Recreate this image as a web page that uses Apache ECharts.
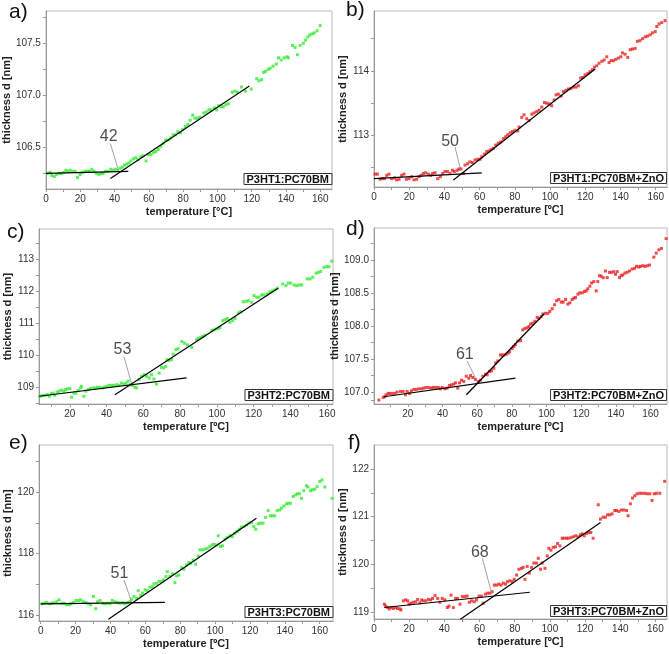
<!DOCTYPE html>
<html><head><meta charset="utf-8">
<script src="https://cdn.jsdelivr.net/npm/echarts@6/dist/echarts.min.js"></script>
<style>html,body{margin:0;padding:0;background:#fff}#c{width:669px;height:654px}</style>
</head><body><div id="c"></div>
<script>
// ---------- data (temperature °C, thickness nm) ----------
const ptsA = [[0.9,106.25],[2.5,106.26],[3.4,106.23],[4.9,106.22],[6.3,106.24],[7.8,106.25],[9.1,106.25],[10.4,106.26],[11.6,106.28],[12.9,106.27],[14.2,106.28],[15.7,106.27],[17.1,106.27],[18.4,106.21],[19.9,106.24],[21.4,106.26],[22.8,106.27],[24.3,106.27],[25.6,106.27],[26.8,106.29],[28.1,106.27],[29.4,106.25],[30.9,106.24],[32.3,106.25],[33.4,106.25],[34.7,106.27],[36.2,106.27],[37.8,106.29],[39.1,106.28],[40.4,106.29],[41.7,106.28],[43.3,106.30],[44.6,106.31],[45.9,106.33],[47.2,106.34],[48.4,106.35],[49.5,106.37],[51.0,106.39],[52.4,106.40],[53.7,106.38],[55.2,106.41],[56.7,106.42],[58.4,106.37],[59.8,106.43],[61.3,106.43],[62.8,106.45],[64.1,106.46],[65.5,106.48],[67.0,106.51],[68.5,106.54],[69.8,106.57],[71.2,106.57],[72.7,106.59],[74.2,106.62],[75.5,106.62],[76.9,106.65],[78.4,106.64],[79.7,106.67],[81.3,106.70],[82.7,106.72],[84.1,106.76],[85.6,106.81],[86.9,106.78],[88.2,106.78],[89.7,106.79],[92.0,106.83],[93.5,106.84],[95.0,106.86],[96.4,106.86],[98.3,106.88],[99.6,106.86],[100.7,106.90],[102.1,106.89],[103.4,106.89],[104.9,106.91],[106.4,106.92],[108.7,107.03],[110.2,107.04],[111.6,107.03],[114.0,107.08],[116.3,107.04],[119.7,107.06],[122.9,107.16],[124.2,107.14],[125.8,107.15],[126.9,107.22],[128.1,107.23],[129.6,107.25],[130.7,107.26],[132.4,107.28],[134.3,107.30],[135.6,107.36],[137.2,107.34],[139.0,107.36],[140.6,107.37],[141.3,107.36],[143.8,107.48],[145.3,107.46],[146.7,107.39],[148.2,107.48],[150.1,107.50],[151.4,107.53],[152.7,107.56],[153.8,107.58],[155.2,107.59],[156.5,107.60],[158.1,107.62],[159.9,107.67]];
const ptsB = [[0.6,112.40],[1.9,112.40],[3.4,112.32],[4.7,112.33],[5.9,112.33],[7.2,112.38],[8.5,112.40],[10.0,112.33],[11.6,112.34],[12.9,112.31],[14.2,112.32],[15.7,112.38],[17.0,112.40],[18.4,112.32],[19.9,112.33],[21.4,112.36],[22.7,112.31],[24.2,112.32],[25.6,112.36],[26.7,112.38],[28.0,112.41],[29.4,112.42],[30.9,112.40],[32.2,112.38],[33.3,112.41],[34.7,112.42],[36.2,112.33],[37.7,112.36],[39.0,112.41],[40.3,112.44],[41.7,112.44],[43.2,112.41],[44.5,112.46],[45.6,112.44],[47.2,112.46],[48.3,112.48],[49.4,112.48],[50.7,112.41],[51.7,112.54],[53.2,112.56],[54.5,112.59],[55.9,112.58],[57.4,112.62],[58.9,112.63],[60.2,112.63],[61.2,112.67],[62.7,112.71],[64.0,112.75],[65.3,112.76],[66.5,112.78],[67.8,112.80],[69.1,112.85],[70.6,112.88],[72.0,112.90],[73.5,112.95],[74.8,112.98],[75.9,113.01],[77.3,113.04],[78.6,113.06],[80.1,113.08],[81.6,113.07],[82.4,113.13],[83.9,113.28],[85.2,113.32],[86.7,113.26],[88.1,113.23],[89.6,113.33],[90.9,113.35],[92.4,113.37],[93.8,113.39],[95.3,113.44],[96.8,113.51],[98.1,113.50],[99.4,113.49],[100.9,113.46],[102.3,113.55],[103.4,113.63],[104.7,113.64],[106.3,113.61],[107.6,113.68],[109.1,113.70],[110.4,113.72],[111.9,113.73],[113.3,113.75],[114.6,113.75],[116.1,113.77],[117.4,113.89],[118.6,113.90],[119.9,113.94],[121.4,113.96],[122.7,113.99],[124.1,114.02],[125.2,114.06],[126.5,114.08],[127.8,114.12],[129.4,114.15],[130.7,114.17],[132.2,114.22],[133.5,114.13],[134.7,114.16],[136.0,114.16],[137.3,114.18],[138.8,114.20],[140.2,114.22],[141.1,114.28],[142.6,114.26],[144.1,114.21],[145.5,114.33],[146.8,114.34],[148.3,114.35],[149.6,114.46],[151.1,114.47],[152.5,114.50],[154.0,114.53],[155.3,114.54],[156.8,114.56],[158.1,114.59],[159.7,114.61],[160.6,114.69],[161.9,114.73],[163.4,114.75],[165.3,114.78]];
const ptsC = [[3.7,108.73],[5.0,108.75],[6.4,108.76],[7.7,108.78],[8.8,108.73],[10.0,108.81],[10.9,108.83],[11.8,108.76],[13.1,108.86],[14.2,108.89],[15.5,108.92],[16.7,108.89],[17.6,108.94],[18.7,108.96],[20.0,108.97],[20.9,108.70],[22.2,108.83],[23.3,108.83],[24.5,108.91],[25.8,108.99],[26.3,109.04],[27.6,108.73],[28.7,108.89],[30.0,108.94],[31.2,108.97],[32.7,108.99],[34.0,108.99],[35.0,109.01],[36.3,109.01],[37.8,108.99],[39.0,109.02],[40.3,109.04],[41.4,109.07],[42.7,109.07],[43.9,109.07],[45.4,109.09],[46.8,109.07],[48.1,109.14],[49.4,109.11],[50.5,109.14],[51.7,109.20],[53.0,109.09],[54.1,109.07],[55.4,109.01],[56.3,108.99],[57.7,109.25],[59.0,109.35],[60.3,109.40],[61.7,109.35],[63.2,109.30],[64.4,109.40],[65.7,109.27],[67.1,109.11],[68.6,109.45],[69.9,109.63],[71.1,109.61],[72.2,109.66],[72.9,109.87],[74.0,109.84],[75.3,109.87],[76.2,110.04],[77.7,110.18],[78.9,110.21],[80.9,110.43],[82.4,110.38],[84.0,110.33],[86.3,110.25],[89.0,110.49],[89.9,110.53],[91.2,110.56],[92.3,110.59],[93.5,110.63],[97.2,110.77],[98.1,110.79],[99.5,110.82],[100.8,110.84],[101.7,110.87],[103.2,111.08],[104.4,111.11],[105.7,111.15],[107.1,111.03],[108.6,111.08],[109.9,111.15],[111.7,111.32],[113.0,111.36],[114.4,111.67],[115.9,111.68],[117.1,111.70],[119.0,111.65],[120.2,111.86],[121.7,111.81],[122.9,111.81],[124.4,111.88],[125.6,111.88],[127.4,111.91],[128.9,111.98],[130.4,112.01],[131.6,112.04],[132.9,112.09],[135.8,112.22],[137.6,112.17],[138.9,112.25],[140.2,112.25],[142.0,112.19],[143.4,112.17],[144.9,112.19],[146.2,112.19],[149.2,112.38],[150.7,112.38],[152.2,112.43],[154.0,112.56],[155.2,112.58],[156.5,112.61],[158.3,112.74],[159.8,112.76],[161.0,112.76],[162.5,112.93]];
const ptsD = [[3.3,106.88],[5.8,106.92],[6.7,106.93],[7.5,106.96],[8.7,106.98],[9.6,106.98],[11.0,106.98],[12.5,106.98],[13.8,107.00],[15.8,107.01],[17.3,107.01],[18.7,106.96],[19.6,107.01],[21.0,106.98],[22.1,107.02],[23.5,107.04],[24.8,107.04],[26.3,107.05],[27.9,107.05],[29.2,107.06],[30.6,107.07],[32.1,107.07],[33.5,107.06],[34.6,107.07],[36.0,107.07],[37.5,107.07],[38.8,107.05],[39.8,107.07],[41.3,107.05],[42.7,107.06],[44.0,107.10],[45.2,107.11],[46.5,107.12],[47.5,107.14],[48.8,107.06],[49.8,107.14],[51.0,107.18],[52.3,107.16],[53.7,107.24],[55.2,107.21],[56.2,107.25],[57.5,107.22],[59.0,107.19],[60.6,107.16],[61.9,107.18],[63.3,107.24],[64.8,107.27],[65.8,107.26],[67.1,107.31],[68.3,107.32],[69.6,107.36],[70.6,107.44],[71.9,107.47],[73.5,107.56],[74.4,107.56],[75.4,107.56],[76.7,107.57],[77.9,107.59],[78.7,107.61],[80.2,107.66],[81.2,107.69],[82.1,107.72],[83.5,107.77],[85.0,107.78],[86.3,107.94],[87.5,107.96],[88.8,107.97],[89.8,107.99],[90.8,108.03],[92.1,108.04],[93.3,108.07],[94.6,108.13],[95.6,108.11],[96.9,108.14],[97.9,108.18],[99.4,108.19],[100.8,108.19],[101.9,108.22],[103.3,108.26],[104.6,108.32],[105.8,108.38],[107.1,108.40],[108.5,108.36],[109.6,108.36],[111.0,108.40],[112.3,108.33],[113.5,108.35],[114.8,108.40],[115.8,108.42],[116.7,108.43],[118.1,108.48],[119.2,108.50],[120.6,108.50],[121.9,108.52],[122.9,108.53],[123.8,108.56],[125.0,108.60],[126.0,108.65],[127.3,108.67],[128.7,108.53],[129.6,108.67],[130.6,108.76],[131.5,108.75],[132.7,108.73],[134.0,108.83],[135.0,108.73],[136.3,108.81],[137.5,108.81],[138.8,108.82],[139.8,108.78],[140.8,108.82],[142.1,108.73],[143.1,108.76],[144.0,108.77],[145.2,108.80],[146.5,108.81],[147.9,108.83],[149.4,108.86],[150.8,108.87],[151.9,108.90],[153.3,108.89],[154.2,108.90],[155.6,108.91],[156.7,108.90],[158.1,108.91],[159.4,108.92],[161.9,109.04],[163.3,109.10],[164.8,109.15],[166.3,109.17],[169.0,109.32]];
const ptsE = [[0.6,116.36],[2.1,116.38],[3.4,116.41],[4.8,116.36],[6.3,116.38],[7.6,116.40],[9.2,116.43],[10.5,116.49],[12.0,116.38],[13.4,116.38],[14.9,116.33],[16.2,116.33],[17.2,116.36],[18.7,116.40],[20.2,116.47],[21.6,116.47],[22.9,116.49],[24.4,116.43],[25.8,116.40],[27.3,116.36],[28.6,116.33],[30.2,116.60],[31.5,116.20],[32.6,116.43],[34.0,116.47],[35.5,116.38],[36.8,116.36],[38.2,116.38],[39.7,116.36],[41.0,116.47],[42.6,116.43],[43.9,116.40],[45.4,116.38],[47.0,116.40],[48.3,116.36],[49.6,116.40],[51.2,116.43],[52.1,116.51],[53.5,116.60],[55.0,116.54],[55.9,116.79],[57.3,116.63],[58.4,116.71],[59.8,116.82],[61.1,116.79],[62.6,116.90],[64.0,116.92],[64.9,117.01],[66.4,117.03],[67.8,117.09],[69.3,117.09],[70.3,117.14],[71.8,117.25],[72.6,117.41],[74.1,117.25],[75.6,117.34],[76.9,117.05],[77.9,117.27],[79.2,117.30],[80.8,117.54],[82.1,117.49],[83.6,117.63],[85.0,117.71],[85.9,117.68],[87.4,117.79],[88.8,117.65],[90.3,117.92],[91.3,118.12],[92.8,118.12],[94.1,118.14],[95.5,118.17],[97.0,118.23],[98.3,118.28],[99.3,118.30],[100.8,118.28],[101.8,118.58],[103.1,118.23],[104.2,118.25],[105.6,118.47],[106.9,118.52],[108.4,118.58],[109.8,118.55],[111.3,118.66],[112.6,118.72],[113.8,118.79],[115.1,118.86],[116.5,118.88],[118.0,118.93],[119.3,118.99],[120.9,119.01],[122.2,118.88],[123.3,118.79],[124.7,118.97],[126.0,118.99],[127.5,118.99],[128.9,119.18],[130.4,119.40],[131.7,119.23],[132.9,119.23],[134.2,119.23],[135.6,119.40],[137.1,119.42],[138.0,119.48],[139.4,119.55],[140.9,119.62],[141.9,119.64],[143.2,119.64],[144.7,119.86],[146.1,119.91],[147.2,119.95],[148.5,119.95],[149.5,119.80],[150.8,120.05],[152.4,120.21],[153.3,120.17],[154.7,120.05],[155.8,120.08],[157.1,120.10],[158.5,120.18],[160.0,120.35],[161.3,120.40],[162.9,120.17],[167.1,119.80]];
const ptsF = [[5.9,119.17],[6.6,119.13],[7.8,119.10],[8.7,119.07],[9.7,119.10],[11.0,119.08],[12.3,119.10],[13.4,119.08],[14.8,119.07],[15.3,119.05],[16.7,119.24],[18.0,119.26],[19.1,119.24],[19.9,119.17],[21.0,119.19],[22.3,119.21],[23.7,119.22],[24.8,119.27],[26.1,119.20],[27.1,119.26],[28.0,119.24],[29.4,119.24],[30.9,119.27],[32.2,119.26],[33.3,119.29],[34.7,119.35],[36.2,119.29],[37.5,119.21],[38.8,119.29],[40.3,119.26],[41.7,119.10],[42.6,119.13],[43.8,119.36],[45.1,119.10],[46.4,119.29],[47.5,119.29],[48.9,119.17],[50.2,119.33],[51.7,119.33],[53.0,119.34],[54.2,119.21],[55.5,119.24],[57.0,119.22],[58.3,119.26],[59.7,119.34],[61.2,119.34],[62.1,119.19],[63.4,119.38],[64.6,119.40],[65.9,119.40],[67.2,119.43],[68.4,119.57],[69.7,119.57],[71.0,119.59],[72.2,119.57],[73.5,119.61],[74.8,119.59],[75.9,119.64],[77.3,119.66],[78.6,119.64],[79.7,119.69],[81.1,119.78],[82.4,119.90],[83.9,119.92],[84.8,119.94],[85.8,119.69],[87.1,119.96],[88.3,119.82],[89.6,119.94],[90.9,120.03],[92.4,120.03],[93.4,120.13],[94.7,119.90],[95.6,120.03],[97.2,119.92],[98.5,120.18],[99.4,120.34],[100.6,120.30],[101.9,120.36],[103.2,120.37],[104.4,120.44],[105.7,120.39],[107.0,120.55],[108.1,120.55],[109.5,120.55],[110.4,120.55],[111.9,120.56],[113.3,120.58],[114.6,120.60],[116.1,120.58],[117.4,120.62],[118.4,120.64],[119.5,120.60],[120.8,120.65],[122.2,120.67],[123.3,120.67],[124.6,120.55],[127.5,121.25],[128.8,120.95],[130.3,120.99],[131.6,120.99],[132.8,121.04],[134.1,121.04],[135.4,121.06],[136.9,121.13],[137.9,121.13],[139.2,121.11],[140.7,121.14],[142.0,121.14],[143.6,121.13],[144.5,121.02],[145.8,121.27],[147.0,121.39],[148.3,121.44],[149.6,121.48],[151.1,121.49],[152.5,121.49],[154.0,121.49],[155.3,121.48],[156.8,121.48],[158.1,121.34],[159.3,121.48],[160.6,121.49],[162.5,121.49],[165.3,121.74]];

// linear fit segments [flat, steep] as end points
const fitA = [[[0,106.25],[48,106.27]],[[37.6,106.2],[118.6,107.09]]];
const fitB = [[[0,112.33],[61.2,112.42]],[[45.1,112.31],[125.6,114.03]]];
const fitC = [[[3.2,108.73],[83.5,109.30]],[[44.5,108.78],[133.3,112.09]]];
const fitD = [[[6.2,106.93],[82.1,107.21]],[[53.8,106.96],[98.5,108.18]]];
const fitE = [[[0,116.36],[71.2,116.41]],[[38.8,115.86],[123.7,119.15]]];
const fitF = [[[5.9,119.10],[88.6,119.42]],[[48.9,118.85],[128.8,120.88]]];

// transition temperature annotations
const noteA = {text:'42', at:[36.6,106.60], from:[37.6,106.535], to:[42.3,106.28]};
const noteB = {text:'50', at:[43.2,112.90], from:[46.0,112.82], to:[49.4,112.45]};
const noteC = {text:'53', at:[48.6,110.18], from:[49.4,109.97], to:[53.5,109.14]};
const noteD = {text:'61', at:[52.9,107.57], from:[54.2,107.47], to:[60.0,107.16]};
const noteE = {text:'51', at:[45.1,117.34], from:[47.7,117.14], to:[52.1,116.43]};
const noteF = {text:'68', at:[60.2,120.25], from:[61.6,120.13], to:[66.9,119.40]};

// tick labels
const xLabels = [0,20,40,60,80,100,120,140,160];
const xLabelsC = [20,40,60,80,100,120,140,160];
const xTicks = [0,10,20,30,40,50,60,70,80,90,100,110,120,130,140,150,160];
const yLabelsA = [106.5,107.0,107.5];
const yTicksA = [106.25,106.5,106.75,107.0,107.25,107.5,107.75];
const yLabelsB = [113,114];
const yTicksB = [112.5,113,113.5,114,114.5];
const yLabelsC = [109,110,111,112,113];
const yTicksC = [108.5,109,109.5,110,110.5,111,111.5,112,112.5,113,113.5];
const yLabelsD = [107.0,107.5,108.0,108.5,109.0];
const yTicksD = [106.875,107.0,107.25,107.5,107.75,108.0,108.25,108.5,108.75,109.0,109.25];
const yLabelsE = [116,118,120];
const yTicksE = [116,117,118,119,120,121];
const yLabelsF = [119,120,121,122];
const yTicksF = [119,119.5,120,120.5,121,121.5,122];

const GREEN = '#33ee33', RED = '#ee2222';
const FONT = '"Liberation Sans", Arial, sans-serif';

const panels = [
  {tag:'a)', box:'P3HT1:PC70BM', pts:ptsA, fit:fitA, note:noteA, color:GREEN,
   grid:{left:39,top:11,width:293,height:178}, x:[0,166.8], y:[106.1,107.81],
   xl:xLabels, yl:yLabelsA, yt:yTicksA, dec:1, tagPos:{left:9,top:2}, boxPos:{right:337,top:173}, deg:'°'},
  {tag:'b)', box:'P3HT1:PC70BM+ZnO', pts:ptsB, fit:fitB, note:noteB, color:RED,
   grid:{left:374,top:11,width:293,height:176}, x:[0,166.4], y:[112.2,114.93],
   xl:xLabels, yl:yLabelsB, yt:yTicksB, dec:0, tagPos:{left:346,top:0}, boxPos:{right:2,top:172}, deg:'º'},
  {tag:'c)', box:'P3HT2:PC70BM', pts:ptsC, fit:fitC, note:noteC, color:GREEN,
   grid:{left:39,top:229,width:294,height:175}, x:[3.2,163.2], y:[108.49,113.93],
   xl:xLabelsC, yl:yLabelsC, yt:yTicksC, dec:0, tagPos:{left:7,top:222}, boxPos:{right:336,top:389}, deg:'º'},
  {tag:'d)', box:'P3HT2:PC70BM+ZnO', pts:ptsD, fit:fitD, note:noteD, color:RED,
   grid:{left:374,top:228,width:293,height:176}, x:[0.5,169.5], y:[106.82,109.48],
   xl:xLabels, yl:yLabelsD, yt:yTicksD, dec:1, tagPos:{left:346,top:219}, boxPos:{right:2,top:389}, deg:'º'},
  {tag:'e)', box:'P3HT3:PC70BM', pts:ptsE, fit:fitE, note:noteE, color:GREEN,
   grid:{left:39,top:445,width:294,height:176}, x:[-1,167.6], y:[115.8,121.54],
   xl:xLabels, yl:yLabelsE, yt:yTicksE, dec:0, tagPos:{left:9,top:433}, boxPos:{right:336,top:606}, deg:'º'},
  {tag:'f)', box:'P3HT3:PC70BM+ZnO', pts:ptsF, fit:fitF, note:noteF, color:RED,
   grid:{left:374,top:445,width:293,height:174}, x:[0,166.6], y:[118.86,122.5],
   xl:xLabels, yl:yLabelsF, yt:yTicksF, dec:0, tagPos:{left:348,top:433}, boxPos:{right:2,top:605}, deg:'º'}
];

const grid = [], xAxis = [], yAxis = [], series = [], title = [];
panels.forEach((p, i) => {
  grid.push(Object.assign({show:true, borderColor:'#bbb', borderWidth:1}, p.grid));
  xAxis.push({
    gridIndex:i, type:'value', min:p.x[0], max:p.x[1],
    axisLine:{show:true, onZero:false, lineStyle:{color:'#999', width:1}},
    axisTick:{show:true, length:3, lineStyle:{color:'#999'}, customValues:xTicks},
    axisLabel:{customValues:p.xl, fontSize:10, color:'#333', margin:5, fontFamily:FONT},
    splitLine:{show:false},
    name:'temperature [' + p.deg + 'C]', nameLocation:'middle', nameGap:17,
    nameTextStyle:{fontWeight:'bold', fontSize:11, color:'#222', fontFamily:FONT}
  });
  yAxis.push({
    gridIndex:i, type:'value', min:p.y[0], max:p.y[1],
    axisLine:{show:true, onZero:false, lineStyle:{color:'#999', width:1}},
    axisTick:{show:true, length:3, lineStyle:{color:'#999'}, customValues:p.yt},
    axisLabel:{customValues:p.yl, fontSize:10, color:'#333', margin:5, fontFamily:FONT,
      formatter: v => Number(v).toFixed(p.dec)},
    splitLine:{show:false},
    name:'thickness d [nm]', nameLocation:'middle', nameGap:26,
    nameTextStyle:{fontWeight:'bold', fontSize:11, color:'#222', fontFamily:FONT}
  });
  series.push({type:'scatter', xAxisIndex:i, yAxisIndex:i, data:p.pts, symbol:'rect', symbolSize:3,
    itemStyle:{color:p.color}, silent:true, z:2});
  p.fit.forEach(seg => series.push({type:'line', xAxisIndex:i, yAxisIndex:i, data:seg, symbol:'none',
    lineStyle:{color:'#000', width:1.2}, silent:true, z:3}));
  series.push({type:'line', xAxisIndex:i, yAxisIndex:i, data:[p.note.from, p.note.to], symbol:'none',
    lineStyle:{color:'#888', width:0.8}, silent:true, z:3});
  series.push({type:'scatter', xAxisIndex:i, yAxisIndex:i, data:[p.note.at], symbol:'circle', symbolSize:1,
    itemStyle:{color:'rgba(0,0,0,0)'}, silent:true, z:4,
    label:{show:true, position:'inside', formatter:p.note.text, fontSize:16, color:'#222', fontFamily:FONT}});
  title.push(Object.assign({text:p.tag, padding:0,
    textStyle:{fontSize:21, fontWeight:'normal', color:'#111', fontFamily:FONT}}, p.tagPos));
  title.push(Object.assign({text:p.box, padding:[1,3,0,3], borderColor:'#333', borderWidth:1,
    backgroundColor:'#fff', textStyle:{fontSize:11, fontWeight:'bold', color:'#111', fontFamily:FONT}}, p.boxPos));
});

const chart = echarts.init(document.getElementById('c'), null, {renderer:'canvas'});
chart.setOption({animation:false, backgroundColor:'#fff', title, grid, xAxis, yAxis, series});
</script>
</body></html>
